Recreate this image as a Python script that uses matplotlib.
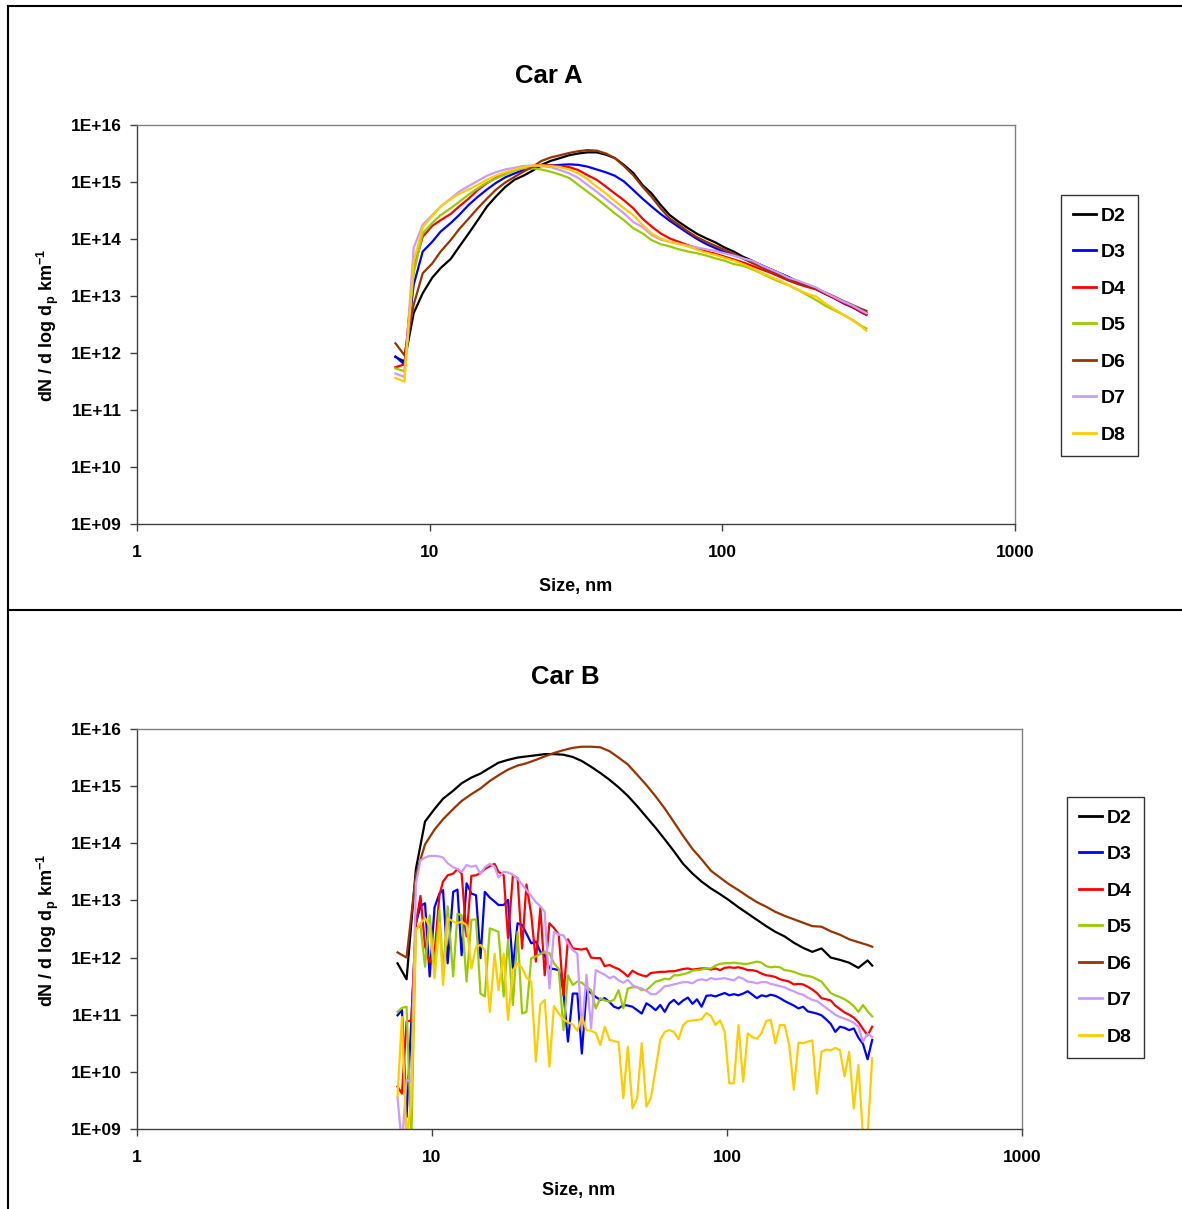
import numpy as np
import matplotlib
matplotlib.use("Agg")
import matplotlib.pyplot as plt
from matplotlib.lines import Line2D

plt.rcParams['font.family'] = ['Liberation Sans', 'DejaVu Sans']
plt.rcParams['font.weight'] = 'bold'
plt.rcParams['mathtext.fontset'] = 'custom'
plt.rcParams['mathtext.rm'] = 'Liberation Sans'
plt.rcParams['mathtext.bf'] = 'Liberation Sans:bold'

# particle size bins, nm (SMPS channel midpoints)
size_fine = [7.64, 7.91, 8.20, 8.51, 8.82, 9.14, 9.47, 9.82, 10.2, 10.6, 10.9, 11.3, 11.8, 12.2, 12.6,
             13.1, 13.6, 14.1, 14.6, 15.1, 15.7, 16.3, 16.8, 17.5, 18.1, 18.8, 19.5, 20.2, 20.9, 21.7,
             22.5, 23.3, 24.1, 25.0, 25.9, 26.9, 27.9, 28.9, 30.0, 31.1, 32.2, 33.4, 34.6, 35.9, 37.2,
             38.5, 40.0, 41.4, 42.9, 44.5, 46.1, 47.8, 49.6, 51.4, 53.3, 55.2, 57.3, 59.4, 61.5, 63.8,
             66.1, 68.5, 71.0, 73.7, 76.4, 79.1, 82.0, 85.1, 88.2, 91.4, 94.7, 98.2, 101.8, 105.5, 109.4,
             113.4, 117.6, 121.9, 126.3, 131.0, 135.8, 140.7, 145.9, 151.2, 156.8, 162.5, 168.5, 174.7,
             181.1, 187.7, 194.6, 201.7, 209.1, 216.7, 224.7, 232.9, 241.4, 250.3, 259.5, 269.0, 278.8,
             289.0, 299.6, 310.6]

# every other bin, used for the smooth curves
size_coarse = [7.64, 8.20, 8.82, 9.47, 10.2, 10.9, 11.8, 12.6, 13.6, 14.6, 15.7, 16.8, 18.1, 19.5,
               20.9, 22.5, 24.1, 25.9, 27.9, 30.0, 32.2, 34.6, 37.2, 40.0, 42.9, 46.1, 49.6, 53.3,
               57.3, 61.5, 66.1, 71.0, 76.4, 82.0, 88.2, 94.7, 101.8, 109.4, 117.6, 126.3, 135.8,
               145.9, 156.8, 168.5, 181.1, 194.6, 209.1, 224.7, 241.4, 259.5, 278.8, 299.6, 310.6]

# values are log10(dN/dlogDp per km)
carA_D2 = [11.93, 11.85, 12.70, 13.05, 13.32, 13.49, 13.65, 13.86, 14.10, 14.33, 14.57, 14.74, 14.91,
           15.04, 15.11, 15.20, 15.30, 15.37, 15.42, 15.47, 15.50, 15.52, 15.52, 15.48, 15.42, 15.30,
           15.16, 14.95, 14.80, 14.60, 14.42, 14.30, 14.19, 14.09, 14.01, 13.94, 13.85, 13.78, 13.69,
           13.62, 13.54, 13.47, 13.40, 13.33, 13.25, 13.18, 13.12, 13.04, 12.97, 12.89, 12.82, 12.75, 12.71]
carA_D3 = [11.94, 11.80, 13.20, 13.78, 13.95, 14.13, 14.28, 14.42, 14.60, 14.74, 14.87, 14.98, 15.08,
           15.15, 15.21, 15.25, 15.28, 15.29, 15.30, 15.31, 15.30, 15.27, 15.22, 15.17, 15.11, 15.01,
           14.86, 14.71, 14.57, 14.44, 14.32, 14.21, 14.10, 14.00, 13.91, 13.84, 13.77, 13.72, 13.66,
           13.60, 13.54, 13.47, 13.40, 13.33, 13.25, 13.19, 13.12, 13.04, 12.96, 12.87, 12.80, 12.71, 12.67]
carA_D4 = [11.75, 11.80, 13.50, 14.04, 14.23, 14.33, 14.44, 14.57, 14.71, 14.86, 14.98, 15.07, 15.15,
           15.21, 15.25, 15.28, 15.30, 15.29, 15.28, 15.26, 15.21, 15.12, 15.04, 14.92, 14.80, 14.68,
           14.54, 14.36, 14.22, 14.10, 14.01, 13.95, 13.89, 13.84, 13.78, 13.74, 13.69, 13.64, 13.59,
           13.53, 13.47, 13.41, 13.34, 13.27, 13.21, 13.16, 13.12, 13.04, 12.96, 12.88, 12.81, 12.72, 12.67]
carA_D5 = [11.73, 11.68, 13.40, 14.10, 14.28, 14.42, 14.54, 14.65, 14.78, 14.89, 14.99, 15.06, 15.13,
           15.20, 15.24, 15.24, 15.22, 15.18, 15.13, 15.07, 14.95, 14.83, 14.71, 14.58, 14.45, 14.33,
           14.19, 14.10, 13.98, 13.91, 13.87, 13.82, 13.78, 13.75, 13.71, 13.66, 13.62, 13.56, 13.53,
           13.47, 13.40, 13.32, 13.25, 13.19, 13.11, 13.02, 12.93, 12.83, 12.75, 12.67, 12.58, 12.47, 12.43]
carA_D6 = [12.17, 11.96, 12.85, 13.40, 13.57, 13.78, 13.98, 14.17, 14.36, 14.54, 14.71, 14.86, 14.99,
           15.09, 15.18, 15.27, 15.37, 15.43, 15.47, 15.51, 15.54, 15.56, 15.55, 15.50, 15.42, 15.28,
           15.12, 14.92, 14.74, 14.54, 14.36, 14.25, 14.13, 14.03, 13.95, 13.88, 13.81, 13.74, 13.66,
           13.58, 13.51, 13.44, 13.37, 13.29, 13.23, 13.18, 13.14, 13.06, 12.99, 12.91, 12.84, 12.77, 12.74]
carA_D7 = [11.64, 11.58, 13.85, 14.25, 14.42, 14.57, 14.71, 14.83, 14.93, 15.02, 15.11, 15.17, 15.22,
           15.25, 15.28, 15.29, 15.28, 15.26, 15.21, 15.15, 15.07, 14.95, 14.83, 14.70, 14.58, 14.45,
           14.30, 14.21, 14.07, 13.99, 13.95, 13.92, 13.88, 13.85, 13.82, 13.79, 13.75, 13.71, 13.66,
           13.62, 13.54, 13.47, 13.40, 13.32, 13.27, 13.21, 13.15, 13.06, 12.98, 12.90, 12.83, 12.74, 12.70]
carA_D8 = [11.56, 11.50, 13.60, 14.21, 14.40, 14.57, 14.70, 14.79, 14.87, 14.95, 15.04, 15.11, 15.17,
           15.22, 15.26, 15.29, 15.29, 15.28, 15.26, 15.22, 15.15, 15.05, 14.92, 14.80, 14.67, 14.54,
           14.42, 14.25, 14.10, 14.01, 13.95, 13.91, 13.87, 13.81, 13.76, 13.72, 13.67, 13.62, 13.56,
           13.49, 13.41, 13.34, 13.27, 13.19, 13.11, 13.04, 12.99, 12.87, 12.77, 12.67, 12.57, 12.46, 12.39]

carB_D2 = [11.90, 11.62, 13.55, 14.38, 14.60, 14.78, 14.92, 15.05, 15.15, 15.22, 15.32, 15.41, 15.46,
           15.50, 15.52, 15.54, 15.56, 15.56, 15.55, 15.51, 15.44, 15.34, 15.23, 15.11, 14.98, 14.83,
           14.65, 14.46, 14.27, 14.07, 13.86, 13.64, 13.47, 13.33, 13.21, 13.11, 13.00, 12.88, 12.77,
           12.66, 12.55, 12.45, 12.37, 12.26, 12.17, 12.10, 12.16, 12.00, 11.96, 11.91, 11.82, 11.95, 11.86]
carB_D6 = [12.09, 12.00, 13.45, 13.98, 14.24, 14.42, 14.60, 14.74, 14.86, 14.96, 15.09, 15.19, 15.29,
           15.36, 15.40, 15.46, 15.52, 15.58, 15.63, 15.67, 15.69, 15.69, 15.68, 15.61, 15.50, 15.38,
           15.20, 15.02, 14.82, 14.61, 14.37, 14.13, 13.90, 13.72, 13.52, 13.40, 13.28, 13.18, 13.07,
           12.97, 12.89, 12.80, 12.73, 12.67, 12.61, 12.55, 12.54, 12.46, 12.40, 12.32, 12.27, 12.22, 12.19]

carB_D3 = [10.99, 11.08, 9.21, 10.88, 12.60, 12.90, 12.95, 11.67, 12.88, 13.12,
           13.18, 11.90, 13.15, 13.19, 12.04, 13.30, 13.12, 13.09, 11.99, 13.15,
           13.05, 12.98, 12.92, 12.92, 13.01, 11.81, 12.60, 12.57, 12.42, 12.25,
           12.28, 12.10, 12.04, 11.81, 11.80, 11.78, 11.40, 10.53, 11.37, 11.37,
           10.32, 11.43, 11.38, 11.31, 11.26, 11.29, 11.22, 11.14, 11.11, 11.17,
           11.16, 11.14, 11.08, 11.02, 11.20, 11.15, 11.08, 11.17, 11.05, 11.20,
           11.26, 11.18, 11.25, 11.30, 11.19, 11.27, 11.14, 11.33, 11.34, 11.32,
           11.35, 11.38, 11.34, 11.36, 11.34, 11.37, 11.41, 11.35, 11.29, 11.34,
           11.32, 11.35, 11.33, 11.29, 11.24, 11.20, 11.16, 11.11, 11.14, 11.06,
           11.04, 11.02, 10.99, 10.92, 10.84, 10.70, 10.79, 10.77, 10.73, 10.76,
           10.60, 10.49, 10.22, 10.56]
carB_D4 = [9.74, 9.62, 10.88, 10.90, 12.60, 13.08, 12.20, 11.92, 12.07, 13.10,
           13.33, 13.44, 13.47, 13.55, 13.47, 12.37, 13.43, 13.44, 13.48, 13.55,
           13.60, 13.64, 13.50, 13.44, 12.34, 13.44, 13.39, 12.16, 13.28, 12.75,
           11.93, 12.87, 11.69, 12.60, 12.52, 12.40, 11.34, 12.32, 12.16, 12.15,
           12.14, 12.16, 12.00, 11.99, 11.99, 11.85, 11.87, 11.83, 11.80, 11.74,
           11.67, 11.77, 11.72, 11.69, 11.67, 11.73, 11.74, 11.75, 11.75, 11.76,
           11.76, 11.78, 11.80, 11.81, 11.79, 11.80, 11.81, 11.81, 11.79, 11.81,
           11.78, 11.82, 11.83, 11.82, 11.83, 11.81, 11.78, 11.78, 11.76, 11.72,
           11.69, 11.68, 11.66, 11.62, 11.60, 11.58, 11.53, 11.54, 11.53, 11.49,
           11.44, 11.38, 11.29, 11.27, 11.25, 11.16, 11.10, 11.04, 11.00, 10.95,
           10.87, 10.75, 10.64, 10.79]
carB_D5 = [11.05, 11.12, 11.14, 8.80, 12.50, 12.56, 11.84, 12.74, 11.84, 12.83,
           11.72, 12.90, 11.67, 12.77, 12.74, 11.58, 12.66, 12.67, 11.37, 11.32,
           12.51, 12.48, 12.45, 11.32, 12.31, 11.17, 12.45, 11.02, 11.05, 11.99,
           12.02, 12.06, 12.10, 12.08, 11.90, 11.80, 10.73, 11.69, 11.52, 11.58,
           11.56, 11.49, 11.43, 11.11, 11.29, 11.25, 11.23, 11.26, 11.43, 11.11,
           11.46, 11.48, 11.48, 11.43, 11.43, 11.50, 11.58, 11.60, 11.63, 11.62,
           11.69, 11.69, 11.71, 11.73, 11.77, 11.78, 11.79, 11.81, 11.81, 11.86,
           11.89, 11.90, 11.90, 11.91, 11.90, 11.89, 11.89, 11.91, 11.93, 11.91,
           11.85, 11.83, 11.84, 11.83, 11.78, 11.77, 11.75, 11.72, 11.69, 11.68,
           11.66, 11.62, 11.58, 11.48, 11.38, 11.34, 11.31, 11.27, 11.22, 11.15,
           11.05, 11.17, 11.06, 10.97]
carB_D7 = [9.55, 8.70, 9.86, 9.83, 13.30, 13.70, 13.75, 13.78, 13.78, 13.77,
           13.75, 13.65, 13.58, 13.55, 13.50, 13.62, 13.59, 13.61, 13.46, 13.58,
           13.64, 13.59, 13.40, 13.50, 13.49, 13.45, 13.38, 13.28, 13.18, 13.08,
           12.97, 12.90, 12.80, 11.46, 12.45, 12.40, 12.39, 12.25, 12.13, 12.07,
           10.73, 11.70, 10.76, 11.78, 11.74, 11.70, 11.64, 11.67, 11.60, 11.56,
           11.61, 11.52, 11.48, 11.46, 11.42, 11.36, 11.36, 11.42, 11.50, 11.51,
           11.53, 11.55, 11.57, 11.57, 11.55, 11.60, 11.62, 11.60, 11.64, 11.62,
           11.63, 11.64, 11.62, 11.60, 11.66, 11.63, 11.58, 11.57, 11.55, 11.57,
           11.57, 11.54, 11.52, 11.50, 11.48, 11.44, 11.41, 11.37, 11.35, 11.30,
           11.26, 11.24, 11.18, 11.12, 11.06, 11.00, 10.96, 10.93, 10.90, 10.86,
           10.79, 10.53, 10.67, 10.61]
carB_D8 = [9.56, 10.96, 8.80, 9.50, 12.48, 12.60, 12.69, 12.55, 11.64, 12.60,
           11.52, 12.69, 12.63, 12.60, 12.63, 12.57, 11.81, 12.19, 12.22, 12.13,
           11.05, 12.07, 11.43, 12.07, 10.91, 11.78, 11.90, 11.82, 11.65, 11.58,
           10.18, 11.18, 11.26, 10.09, 11.15, 11.02, 10.92, 10.87, 10.83, 10.72,
           10.96, 10.73, 10.72, 10.68, 10.47, 10.79, 10.56, 10.54, 10.52, 9.54,
           10.44, 9.36, 9.54, 10.50, 9.39, 9.54, 10.05, 10.56, 10.70, 10.73,
           10.70, 10.57, 10.82, 10.89, 10.90, 10.91, 10.92, 11.03, 10.98, 10.82,
           10.90, 10.70, 9.80, 9.80, 10.82, 9.83, 10.67, 10.61, 10.58, 10.68,
           10.89, 10.91, 10.50, 10.82, 10.82, 10.47, 9.69, 10.51, 10.50, 10.53,
           10.55, 9.62, 10.35, 10.39, 10.38, 10.42, 10.38, 9.92, 10.35, 9.36,
           10.12, 8.90, 8.90, 10.24]

series_names = ['D2', 'D3', 'D4', 'D5', 'D6', 'D7', 'D8']
series_colors = ['#000000', '#0000FF', '#FF0000', '#99CC00', '#993300', '#CC99FF', '#FFCC00']

xtick_values = [1, 10, 100, 1000]
xtick_labels = ['1', '10', '100', '1000']
ytick_values = [1e9, 1e10, 1e11, 1e12, 1e13, 1e14, 1e15, 1e16]
ytick_labels = ['1E+09', '1E+10', '1E+11', '1E+12', '1E+13', '1E+14', '1E+15', '1E+16']

carA = [(size_coarse, carA_D2), (size_coarse, carA_D3), (size_coarse, carA_D4), (size_coarse, carA_D5),
        (size_coarse, carA_D6), (size_coarse, carA_D7), (size_coarse, carA_D8)]
carB = [(size_coarse, carB_D2), (size_fine, carB_D3), (size_fine, carB_D4), (size_fine, carB_D5),
        (size_coarse, carB_D6), (size_fine, carB_D7), (size_fine, carB_D8)]

W, H = 1182, 1209
fig = plt.figure(figsize=(W / 100, H / 100), dpi=100)


def fx(px):
    return px / W


def fy(py):
    return 1 - py / H


def draw_panel(rect, data, title, title_xy, xlabel_xy, ylabel_xy, legend_xy):
    left, top, right, bottom = rect
    ax = fig.add_axes([fx(left), fy(bottom), fx(right) - fx(left), fy(top) - fy(bottom)])
    for (xs, ys), name, col in zip(data, series_names, series_colors):
        ax.plot(xs, 10.0 ** np.array(ys), color=col, lw=1.6, label=name)
    ax.set_xscale('log')
    ax.set_yscale('log')
    ax.set_xlim(1, 1000)
    ax.set_ylim(1e9, 1e16)
    ax.set_xticks(xtick_values)
    ax.set_xticklabels(xtick_labels)
    ax.set_yticks(ytick_values)
    ax.set_yticklabels(ytick_labels)
    ax.minorticks_off()
    ax.tick_params(axis='both', direction='out', length=5, width=1, labelsize=12.5, color='#404040')
    ax.tick_params(axis='y', pad=6)
    ax.tick_params(axis='x', pad=10)
    for s in ['top', 'right']:
        ax.spines[s].set_color('#808080')
        ax.spines[s].set_linewidth(1)
    for s in ['left', 'bottom']:
        ax.spines[s].set_color('#404040')
        ax.spines[s].set_linewidth(1)

    fig.text(fx(title_xy[0]), fy(title_xy[1]), title, fontsize=18.5, fontweight='bold',
             ha='center', va='center')
    fig.text(fx(xlabel_xy[0]), fy(xlabel_xy[1]), 'Size, nm', fontsize=13, fontweight='bold',
             ha='center', va='center')
    fig.text(fx(ylabel_xy[0]), fy(ylabel_xy[1]), r'dN / d log d$_\mathbf{p}$ km$^\mathbf{-1}$',
             fontsize=13, fontweight='bold', rotation=90, ha='center', va='center')

    handles = [Line2D([], [], color=c, lw=2) for c in series_colors]
    leg = fig.legend(handles, series_names, loc='upper left',
                     bbox_to_anchor=(fx(legend_xy[0]), fy(legend_xy[1])),
                     frameon=True, fancybox=False, shadow=False, fontsize=14,
                     handlelength=1.2, handletextpad=0.25, labelspacing=0.97,
                     borderpad=0.62, borderaxespad=0)
    leg.get_frame().set_edgecolor('black')
    leg.get_frame().set_linewidth(1)
    for t in leg.get_texts():
        t.set_fontweight('bold')
    return ax


draw_panel((137, 125, 1015, 524), carA, 'Car A', (549, 76), (576, 586), (48, 325), (1061, 195))
draw_panel((137, 729, 1022, 1129), carB, 'Car B', (565, 677), (579, 1191), (48, 930), (1067, 797))

# outer panel frames
lw_frame = 1.5
fig.add_artist(Line2D([fx(8), fx(8)], [fy(6), 0], color='black', lw=lw_frame))
fig.add_artist(Line2D([fx(8), 1], [fy(6), fy(6)], color='black', lw=lw_frame))
fig.add_artist(Line2D([fx(8), 1], [fy(610), fy(610)], color='black', lw=lw_frame))

fig.savefig('out.png', dpi=100)
